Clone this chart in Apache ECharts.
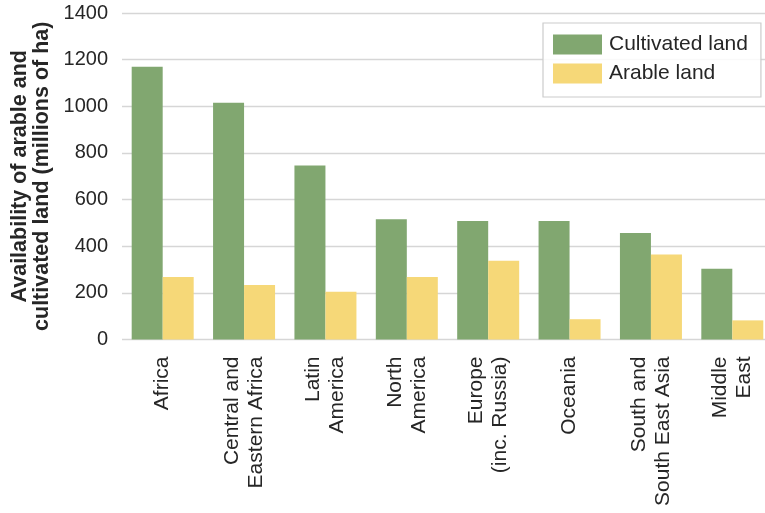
<!DOCTYPE html>
<html>
<head>
<meta charset="utf-8">
<script src="https://cdn.jsdelivr.net/npm/echarts@6/dist/echarts.min.js"></script>
<style>html,body{margin:0;padding:0;background:#fff;}#c{width:765px;height:513px;}</style>
</head>
<body>
<div id="c"></div>
<script>
const categories = ["Africa", "Central and\nEastern Africa", "Latin\nAmerica", "North\nAmerica", "Europe\n(inc. Russia)", "Oceania", "South and\nSouth East Asia", "Middle\nEast"];
const cultivatedLand = [1170, 1015, 746, 516, 508, 508, 457, 303];
const arableLand = [268, 234, 205, 268, 338, 87, 364, 82];
const yTicks = [0, 200, 400, 600, 800, 1000, 1200, 1400];

const chart = echarts.init(document.getElementById('c'), null, {renderer: 'canvas'});
const font = '"Liberation Sans", Arial, Helvetica, sans-serif';
chart.setOption({
  animation: false,
  backgroundColor: '#ffffff',
  textStyle: {fontFamily: font, color: '#262626'},
  grid: {left: 122, right: -8, top: 13, bottom: 173.5, containLabel: false, outerBoundsMode: 'none'},
  legend: {
    orient: 'vertical',
    left: 543, top: 23,
    padding: [11, 13, 13, 10],
    itemWidth: 49, itemHeight: 20, itemGap: 8,
    backgroundColor: 'rgba(255,255,255,0.85)',
    borderColor: '#cccccc', borderWidth: 1.2,
    icon: 'rect',
    textStyle: {fontFamily: font, fontSize: 21, color: '#262626', lineHeight: 20, padding: [0, 0, 0, 2]},
    data: ['Cultivated land', 'Arable land']
  },
  xAxis: {
    type: 'category',
    data: categories,
    axisLine: {show: false},
    axisTick: {show: false},
    splitLine: {show: false},
    axisLabel: {
      rotate: 90, interval: 0, margin: 17,
      fontFamily: font, fontSize: 21, lineHeight: 24, color: '#262626'
    }
  },
  yAxis: {
    type: 'value',
    min: yTicks[0], max: yTicks[yTicks.length - 1], interval: 200,
    axisLine: {show: false},
    axisTick: {show: false},
    splitLine: {show: true, lineStyle: {color: '#d6d6d6', width: 1.3}},
    axisLabel: {margin: 14, fontFamily: font, fontSize: 20, color: '#262626', formatter: function (v) { return String(v); }},
    name: 'Availability of arable and\ncultivated land (millions of ha)',
    nameLocation: 'middle',
    nameGap: 69,
    nameTextStyle: {fontFamily: font, fontSize: 21.5, fontWeight: 'bold', color: '#262626', lineHeight: 22, align: 'center'}
  },
  series: [
    {name: 'Cultivated land', type: 'bar', data: cultivatedLand, barWidth: 31, barGap: '0%',
     itemStyle: {color: '#81a770'}},
    {name: 'Arable land', type: 'bar', data: arableLand, barWidth: 31, barGap: '0%',
     itemStyle: {color: '#f6d878'}}
  ]
});
</script>
</body>
</html>
